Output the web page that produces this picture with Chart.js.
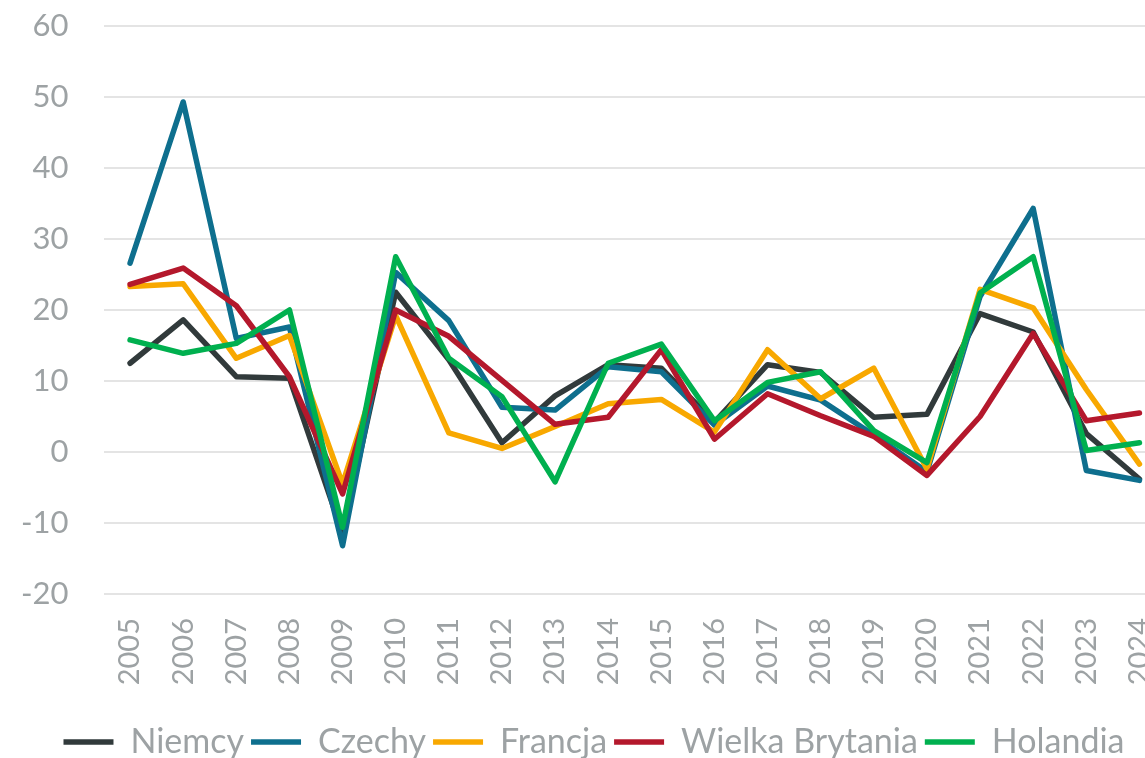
<!DOCTYPE html>
<html>
<head>
<meta charset="utf-8">
<script src="https://cdn.jsdelivr.net/npm/chart.js@4"></script>
<style>
  html, body { margin: 0; padding: 0; background: #fff; overflow: hidden; }
  #wrap { position: absolute; left: 0; top: 0; width: 1170px; height: 770px; }
</style>
</head>
<body>
<div id="wrap"><canvas id="myChart"></canvas></div>
<script>
const years = ['2005', '2006', '2007', '2008', '2009', '2010', '2011', '2012', '2013', '2014',
  '2015', '2016', '2017', '2018', '2019', '2020', '2021', '2022', '2023', '2024'];

const niemcy = [12.5, 18.6, 10.6, 10.4, -11.5, 22.5, 13.0, 1.3, 7.9, 12.3, 11.8, 4.2, 12.3, 11.2, 4.9, 5.3, 19.5, 16.9, 2.6, -3.8];
const czechy = [26.6, 49.3, 16.0, 17.6, -13.2, 25.3, 18.5, 6.3, 5.9, 12.0, 11.3, 3.8, 9.3, 7.3, 2.4, -2.8, 21.9, 34.3, -2.6, -4.0];
const francja = [23.3, 23.7, 13.2, 16.4, -4.5, 19.2, 2.7, 0.5, 3.6, 6.8, 7.4, 2.8, 14.4, 7.5, 11.8, -2.4, 22.9, 20.3, 8.8, -1.7];
const wielkaBrytania = [23.6, 25.9, 20.6, 10.6, -5.9, 20.0, 16.3, 10.1, 3.9, 4.9, 14.4, 1.8, 8.2, 5.1, 2.2, -3.3, 5.0, 16.7, 4.4, 5.5];
const holandia = [15.8, 13.9, 15.3, 20.0, -10.6, 27.5, 13.2, 7.8, -4.2, 12.5, 15.2, 4.4, 9.8, 11.3, 3.0, -1.5, 22.4, 27.5, 0.2, 1.3];

const yMin = -20;
const yMax = 60;
const yStep = 10;

const grey = '#9da2a4';

function line(label, values, color, order) {
  return {
    label: label,
    data: values,
    borderColor: color,
    backgroundColor: color,
    borderWidth: 5.5,
    pointRadius: 0,
    pointHoverRadius: 0,
    pointStyle: 'line',
    tension: 0,
    borderJoinStyle: 'round',
    borderCapStyle: 'round',
    fill: false,
    order: order
  };
}

const data = {
  labels: years,
  datasets: [
    line('Niemcy', niemcy, '#313a3b', 4),
    line('Czechy', czechy, '#0e6f8e', 3),
    line('Francja', francja, '#f8a800', 2),
    line('Wielka Brytania', wielkaBrytania, '#b4182c', 1),
    line('Holandia', holandia, '#00b04f', 0)
  ]
};

const config = {
  type: 'line',
  data: data,
  options: {
    responsive: true,
    maintainAspectRatio: false,
    animation: false,
    layout: {
      padding: { left: 22, right: 4, top: 26, bottom: 1 }
    },
    scales: {
      x: {
        offset: true,
        grid: { display: false, drawTicks: false },
        border: { display: false },
        ticks: {
          color: grey,
          font: { family: 'Lato', size: 29 },
          minRotation: 90,
          maxRotation: 90,
          padding: 24,
          autoSkip: false
        },
        afterFit: function (scale) {
          scale.height = 124;
          scale.paddingLeft = 0;
          scale.paddingRight = 0;
        }
      },
      y: {
        min: yMin,
        max: yMax,
        border: { display: false },
        grid: { color: '#e4e4e4', lineWidth: 2, drawTicks: false },
        ticks: {
          stepSize: yStep,
          color: grey,
          font: { family: 'Lato', size: 31 },
          padding: 35
        },
        afterFit: function (scale) {
          scale.width = 81.5;
          scale.paddingTop = 0;
          scale.paddingBottom = 0;
        }
      }
    },
    plugins: {
      legend: {
        position: 'bottom',
        labels: {
          color: grey,
          font: { family: 'Lato', size: 34 },
          usePointStyle: true,
          pointStyleWidth: 50,
          boxHeight: 6,
          padding: 7,
          sort: (a, b) => a.datasetIndex - b.datasetIndex
        }
      },
      tooltip: { enabled: false }
    }
  }
};

var ctx = document.getElementById('myChart');
var myChart = new Chart(ctx, config);
</script>
</body>
</html>
